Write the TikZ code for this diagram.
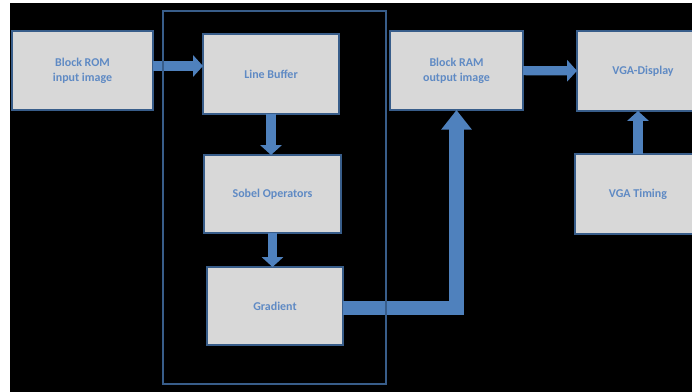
\documentclass[tikz,border=0pt]{standalone}
\usepackage{fontspec}
\setmainfont{Carlito}
\usepackage{tikz}
\usetikzlibrary{arrows.meta, positioning}
\usepackage{xcolor}
\definecolor{boxgray}{RGB}{216, 216, 216}
\definecolor{lineblue}{RGB}{56, 93, 138}
\definecolor{arrowblue}{RGB}{79, 129, 189}
\definecolor{textblue}{RGB}{95, 138, 196}

\tikzset{
    block/.style={draw=lineblue, line width=1.4pt, fill=boxgray, rectangle, inner sep=0pt, outer sep=0pt, align=center, text=textblue, font=\fontsize{8.5}{10.7}\selectfont\bfseries},
    bigarrow/.style={draw=arrowblue, line width=6.5pt, -{Triangle[length=7pt, width=15pt]}},
    fatarrow/.style={draw=arrowblue, line width=10pt, line join=miter, -{Triangle[length=14pt, width=21pt]}}
}

\begin{document}
\begin{tikzpicture}[x=0.025cm, y=-0.025cm]
    \clip (0,0) rectangle (692,392);
    \fill[white] (0,0) rectangle (692,392);
    \fill[black] (10,3) rectangle (692,392);

    \node[block, minimum width=3.525cm, minimum height=1.975cm] (rom) at (82.5,70.5) {Block ROM\\input image};
    \node[block, minimum width=3.4cm, minimum height=2cm] (buffer) at (271,74) {Line Buffer};
    \node[block, minimum width=3.425cm, minimum height=1.95cm] (sobel) at (272.5,194) {Sobel Operators};
    \node[block, minimum width=3.4cm, minimum height=1.95cm] (grad) at (275,306) {Gradient};
    \node[block, minimum width=3.325cm, minimum height=1.975cm] (ram) at (456.5,70.5) {Block RAM\\output image};
    \node[block, minimum width=3.3cm, minimum height=2cm] (vga) at (643,71) {VGA-Display};
    \node[block, minimum width=3.15cm, minimum height=2cm] (timing) at (638,194) {VGA Timing};

    \draw[bigarrow] (rom.east |- 0,66) -- (buffer.west |- 0,66);
    \draw[bigarrow] (buffer.south) -- (buffer.south |- sobel.north);
    \draw[bigarrow] (sobel.south) -- (sobel.south |- grad.north);
    \draw[bigarrow] (ram) -- (vga);
    \draw[bigarrow] (timing.north) -- (timing.north |- vga.south);
    \draw[fatarrow] (grad.east |- 0,308) -| (ram.south);

    % processing frame
    \draw[lineblue, line width=1.4pt] (163,11) rectangle (386,384);
\end{tikzpicture}
\end{document}
